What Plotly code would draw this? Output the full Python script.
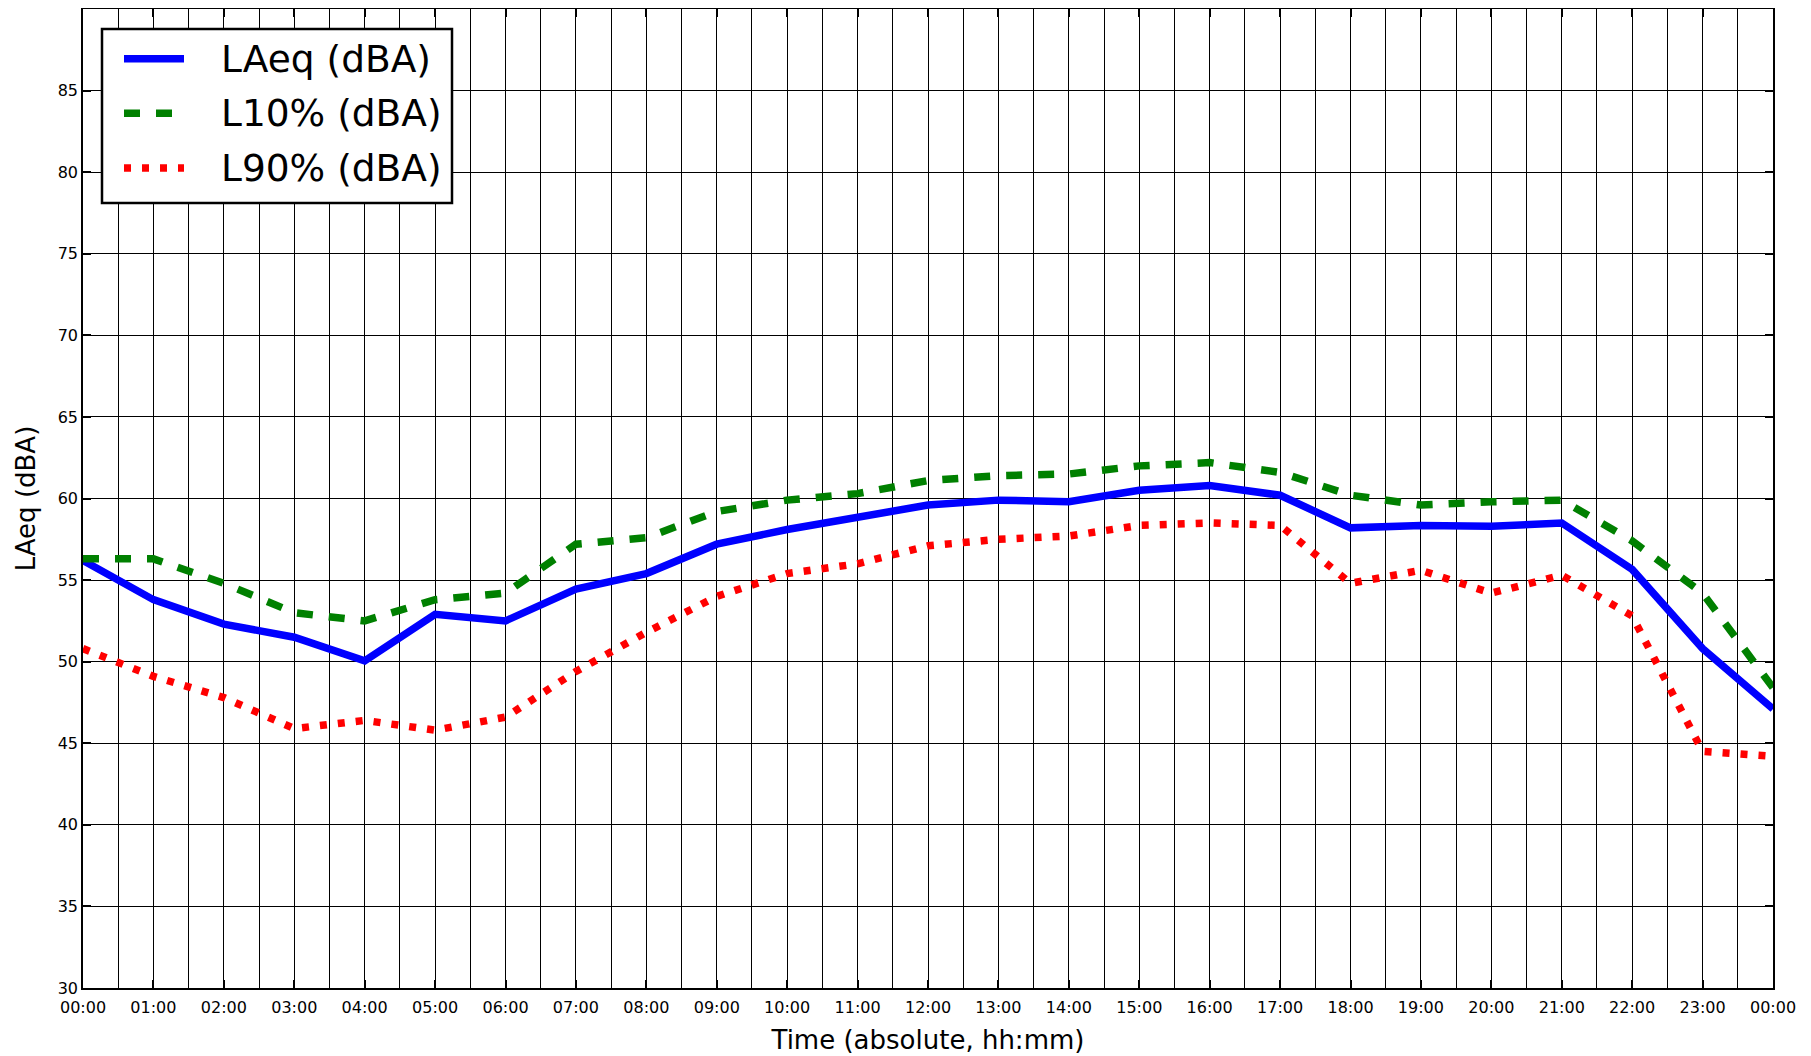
import plotly.graph_objects as go

hour_labels = ["00:00", "01:00", "02:00", "03:00", "04:00", "05:00", "06:00", "07:00",
               "08:00", "09:00", "10:00", "11:00", "12:00", "13:00", "14:00", "15:00",
               "16:00", "17:00", "18:00", "19:00", "20:00", "21:00", "22:00", "23:00",
               "00:00"]

laeq = [56.2, 53.8, 52.3, 51.5, 50.05, 52.9, 52.5, 54.45, 55.4, 57.2, 58.1, 58.9, 59.6,
        59.9, 59.8, 60.5, 60.8, 60.2, 58.2, 58.35, 58.3, 58.5, 55.65, 50.8, 47.1]
l10 = [56.3, 56.3, 54.8, 53.0, 52.5, 53.8, 54.2, 57.2, 57.6, 59.2, 59.9, 60.3, 61.1,
       61.4, 61.5, 62.0, 62.2, 61.6, 60.2, 59.6, 59.8, 59.9, 57.4, 54.2, 48.4]
l90 = [50.8, 49.1, 47.8, 45.9, 46.4, 45.8, 46.6, 49.4, 51.8, 54.0, 55.4, 56.0, 57.1,
       57.5, 57.7, 58.35, 58.5, 58.35, 54.8, 55.6, 54.2, 55.3, 52.8, 44.5, 44.2]

series_names = ["LAeq (dBA)", "L10% (dBA)", "L90% (dBA)"]
series_colors = ["#0000ff", "#008000", "#ff0000"]
series_dashes = ["solid", "16px,16px", "7px,11px"]

y_ticks = [30, 35, 40, 45, 50, 55, 60, 65, 70, 75, 80, 85]

# timestamps: first 24 labels on day 1, final label on day 2
x_times = ["2000-01-01 " + h for h in hour_labels[:-1]] + ["2000-01-02 " + hour_labels[-1]]

FONT = "DejaVu Sans"
LW = 7.5

fig = go.Figure()
for name, vals, col, dash in zip(series_names, [laeq, l10, l90], series_colors, series_dashes):
    fig.add_trace(go.Scatter(x=x_times, y=vals, mode="lines", name=name,
                             line=dict(color=col, width=LW, dash=dash)))

# figure is placed 8px into the page by the body margin
W, H = 1803, 1048
ML, MR, MT, MB = 75, 38, 1, 68
PW = W - ML - MR
PH = H - MT - MB


def px(xp):  # figure-pixel x -> paper
    return (xp - ML) / PW


def py(yp):  # figure-pixel y -> paper
    return (H - MB - yp) / PH


# legend box (figure pixels)
bx0, bx1, by0, by1 = 94, 444, 21, 195
shapes = [dict(type="rect", xref="paper", yref="paper",
               x0=px(bx0), x1=px(bx1), y0=py(by1), y1=py(by0),
               line=dict(color="black", width=2.5), fillcolor="white", layer="above")]
annotations = []
row_y = [50.7, 105.3, 160.0]
for name, col, dash, ry in zip(series_names, series_colors, series_dashes, row_y):
    shapes.append(dict(type="line", xref="paper", yref="paper",
                       x0=px(116), x1=px(176), y0=py(ry), y1=py(ry),
                       line=dict(color=col, width=LW, dash=dash), layer="above"))
    annotations.append(dict(text=name, xref="paper", yref="paper",
                            x=px(211), y=py(ry), xanchor="left", yanchor="middle",
                            showarrow=False,
                            font=dict(family=FONT, size=37.5, color="black")))

fig.update_layout(
    width=W, height=H,
    margin=dict(l=ML, r=MR, t=MT, b=MB),
    paper_bgcolor="white", plot_bgcolor="white",
    font=dict(family=FONT, color="black"),
    showlegend=False,
    shapes=shapes,
    annotations=annotations,
)

fig.update_xaxes(
    type="date",
    range=["2000-01-01 00:00", "2000-01-02 00:00"],
    tickvals=x_times, ticktext=hour_labels,
    tickfont=dict(family=FONT, size=16, color="black"),
    ticklabelstandoff=4,
    showgrid=True, gridcolor="black", gridwidth=1,
    minor=dict(dtick=1800000, showgrid=True, gridcolor="black", gridwidth=1),
    ticks="inside", ticklen=8, tickwidth=1.5, tickcolor="black",
    showline=True, linecolor="black", linewidth=1.5, mirror="ticks",
    zeroline=False, automargin=False,
    title=dict(text="Time (absolute, hh:mm)", font=dict(family=FONT, size=26, color="black"),
               standoff=15),
)
fig.update_yaxes(
    range=[30, 90],
    tickvals=y_ticks,
    tickfont=dict(family=FONT, size=16, color="black"),
    showgrid=True, gridcolor="black", gridwidth=1,
    ticks="inside", ticklen=8, tickwidth=1.5, tickcolor="black",
    showline=True, linecolor="black", linewidth=1.5, mirror="ticks",
    zeroline=False, automargin=False,
    title=dict(text="LAeq (dBA)", font=dict(family=FONT, size=26, color="black"),
               standoff=15),
)

fig.write_html("out.html")
